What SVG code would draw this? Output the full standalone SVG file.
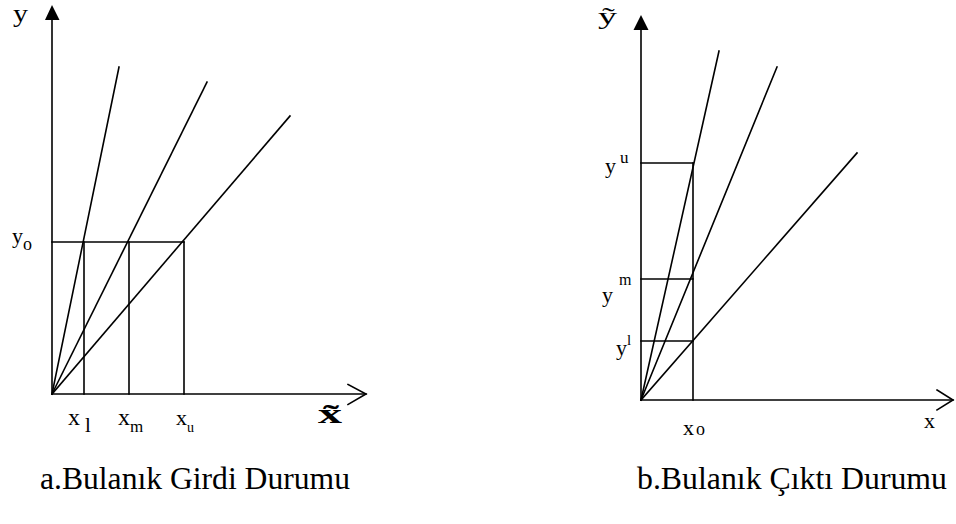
<svg xmlns="http://www.w3.org/2000/svg" width="956" height="524" viewBox="0 0 956 524">
<style>
.ln{stroke:#000;stroke-width:1.6;fill:none;stroke-linecap:square}
.ah{fill:#000;stroke:none}
text{font-family:"Liberation Serif","Times New Roman",serif;fill:#000}
.cap{font-family:"Liberation Serif","Times New Roman",serif;font-size:32px}
</style>
<rect width="956" height="524" fill="#fff"/>
<g id="graph-a">
  <g id="axes-a">
    <line class="ln" x1="52" y1="394" x2="52" y2="20"/>
    <polygon class="ah" points="52,5 45,20 59.5,20"/>
    <line class="ln" x1="52" y1="394" x2="366" y2="394"/>
    <polyline class="ln" points="348,384.5 366,394 348,404.5"/>
  </g>
  <g id="lines-a">
    <line class="ln" x1="52" y1="394" x2="119" y2="67"/>
    <line class="ln" x1="52" y1="394" x2="207" y2="82"/>
    <line class="ln" x1="52" y1="394" x2="290" y2="116"/>
    <line class="ln" x1="52" y1="242" x2="184" y2="242"/>
    <line class="ln" x1="84" y1="242" x2="84" y2="394"/>
    <line class="ln" x1="129" y1="242" x2="129" y2="394"/>
    <line class="ln" x1="184" y1="242" x2="184" y2="394"/>
  </g>
  <g id="labels-a">
    <text x="13" y="22" font-size="25" textLength="15" lengthAdjust="spacingAndGlyphs">y</text>
    <text x="12" y="243" font-size="22">y</text>
    <text x="23" y="250" font-size="18">o</text>
    <text x="68" y="425" font-size="24">x</text>
    <text x="85" y="432" font-size="21">l</text>
    <text x="118" y="425" font-size="24">x</text>
    <text x="130" y="432" font-size="17">m</text>
    <text x="176" y="425" font-size="22">x</text>
    <text x="187" y="432" font-size="14">u</text>
    <text x="318" y="423" font-size="28" font-weight="bold" textLength="24" lengthAdjust="spacingAndGlyphs">x̃</text>
    <text class="cap" x="40" y="489" textLength="310" lengthAdjust="spacingAndGlyphs">a.Bulanık Girdi Durumu</text>
  </g>
</g>
<g id="graph-b">
  <g id="axes-b">
    <line class="ln" x1="641" y1="400" x2="641" y2="30"/>
    <polygon class="ah" points="641,15 633.5,30 648.5,30"/>
    <line class="ln" x1="641" y1="400" x2="953" y2="400"/>
    <polyline class="ln" points="937,390 953,400 937,410"/>
  </g>
  <g id="lines-b">
    <line class="ln" x1="641" y1="400" x2="719" y2="51"/>
    <line class="ln" x1="641" y1="400" x2="777" y2="67"/>
    <line class="ln" x1="641" y1="400" x2="857" y2="153"/>
    <line class="ln" x1="693" y1="163" x2="693" y2="400"/>
    <line class="ln" x1="641" y1="163" x2="693" y2="163"/>
    <line class="ln" x1="641" y1="279" x2="693" y2="279"/>
    <line class="ln" x1="641" y1="341" x2="693" y2="341"/>
  </g>
  <g id="labels-b">
    <text x="598" y="24" font-size="24" textLength="19" lengthAdjust="spacingAndGlyphs">ỹ</text>
    <text x="605" y="173" font-size="22">y</text>
    <text x="620" y="163" font-size="17">u</text>
    <text x="602" y="302" font-size="22">y</text>
    <text x="619" y="285" font-size="16">m</text>
    <text x="616" y="355" font-size="22">y</text>
    <text x="627" y="345" font-size="15">l</text>
    <text x="683" y="435" font-size="22">x</text>
    <text x="696" y="435" font-size="18">o</text>
    <text x="924" y="428" font-size="22">x</text>
    <text class="cap" x="637" y="489" textLength="310" lengthAdjust="spacingAndGlyphs">b.Bulanık Çıktı Durumu</text>
  </g>
</g>
</svg>
